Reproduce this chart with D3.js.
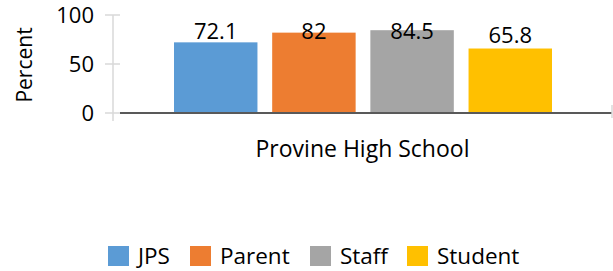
<!DOCTYPE html>
<html>
<head>
<meta charset="utf-8">
<script src="https://cdn.jsdelivr.net/npm/d3@7"></script>
<style>
  body { margin: 0; background: #fff; }
  text { font-family: "Open Sans", "Noto Sans", sans-serif; fill: #000; }
</style>
</head>
<body>
<script>
const width = 613
const height = 271

// data
const category = "Provine High School"
const seriesNames = ["JPS", "Parent", "Staff", "Student"]
const seriesValues = [72.1, 82, 84.5, 65.8]
const seriesColors = ["#5b9bd5", "#ed7d31", "#a5a5a5", "#ffc000"]
const yTicks = [0, 50, 100]

const svg = d3.select("body").append("svg")
    .attr("width", width)
    .attr("height", height);

const y = d3.scaleLinear().domain([0, 100]).range([113, 15]);
const x0 = d3.scaleBand().domain([category]).range([113, 612]).paddingInner(0).paddingOuter(0);
const x1 = d3.scaleBand().domain(seriesNames)
    .range([x0(category) + 61, x0(category) + x0.bandwidth() - 60])
    .paddingInner(0.15).paddingOuter(0);

// y axis (light grey)
svg.append("line")
    .attr("x1", 113).attr("x2", 113)
    .attr("y1", y(100)).attr("y2", 121)
    .attr("stroke", "#d9d9d9").attr("stroke-width", 1.5);
svg.append("g").selectAll("line")
    .data(yTicks)
    .enter().append("line")
    .attr("x1", 105).attr("x2", 120)
    .attr("y1", d => y(d)).attr("y2", d => y(d))
    .attr("stroke", "#d9d9d9").attr("stroke-width", 1.5);
svg.append("g").selectAll("text")
    .data(yTicks)
    .enter().append("text")
    .attr("x", 94)
    .attr("y", d => y(d))
    .attr("dy", "0.36em")
    .attr("text-anchor", "end")
    .attr("font-size", 22)
    .text(d => d);

svg.append("text")
    .attr("transform", `translate(32, ${y(50) + 1}) rotate(-90)`)
    .attr("text-anchor", "middle")
    .attr("font-size", 21)
    .text("Percent");

// bars
svg.append("g").selectAll("rect")
    .data(seriesValues)
    .enter().append("rect")
    .attr("x", (d, i) => x1(seriesNames[i]))
    .attr("width", x1.bandwidth())
    .attr("y", d => y(d))
    .attr("height", d => y(0) - y(d))
    .attr("fill", (d, i) => seriesColors[i]);

// value labels
svg.append("g").selectAll("text")
    .data(seriesValues)
    .enter().append("text")
    .attr("x", (d, i) => x1(seriesNames[i]) + x1.bandwidth() / 2)
    .attr("y", d => Math.max(39, y(d) - 6))
    .attr("text-anchor", "middle")
    .attr("font-size", 22)
    .text(d => d);

// baseline (dark)
svg.append("line")
    .attr("x1", 120).attr("x2", 612)
    .attr("y1", y(0)).attr("y2", y(0))
    .attr("stroke", "#595959").attr("stroke-width", 2);
svg.append("line")
    .attr("x1", 612).attr("x2", 612)
    .attr("y1", 105).attr("y2", 118)
    .attr("stroke", "#d9d9d9").attr("stroke-width", 1.5);

// category label
svg.append("text")
    .attr("x", x0(category) + x0.bandwidth() / 2)
    .attr("y", 157)
    .attr("text-anchor", "middle")
    .attr("font-size", 23)
    .text(category);

// legend
const legendX = [108, 190, 310, 407];
const legend = svg.append("g").selectAll("g")
    .data(seriesNames)
    .enter().append("g")
    .attr("transform", (d, i) => `translate(${legendX[i]}, 246)`);
legend.append("rect")
    .attr("width", 21).attr("height", 20)
    .attr("fill", (d, i) => seriesColors[i]);
legend.append("text")
    .attr("x", 30).attr("y", 18)
    .attr("font-size", 22.5)
    .text(d => d);
</script>
</body>
</html>
